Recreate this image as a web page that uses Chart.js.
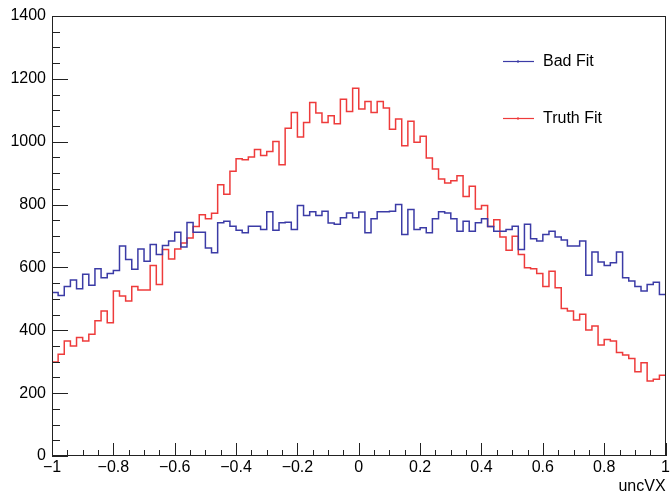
<!DOCTYPE html>
<html>
<head>
<meta charset="utf-8">
<script src="https://cdn.jsdelivr.net/npm/chart.js@4/dist/chart.umd.min.js"></script>
<style>
  html, body { margin: 0; padding: 0; background: #ffffff; }
  #wrap { width: 672px; height: 496px; }
</style>
</head>
<body>
<div id="wrap"><canvas id="c" width="672" height="496"></canvas></div>
<script>
// Histogram range (uncVX), 100 equal bins
const xMin = -1;
const xMax = 1;

// Bin contents, left to right
const badFit = [
  520, 511, 539, 560, 532, 578, 543, 596, 567, 581,
  590, 668, 625, 594, 659, 620, 673, 641, 670, 684,
  712, 665, 743, 712, 712, 662, 647, 742, 747, 731,
  718, 710, 731, 731, 721, 777, 718, 742, 744, 721,
  797, 765, 777, 765, 779, 741, 737, 758, 773, 758,
  776, 710, 755, 777, 777, 779, 800, 705, 784, 721,
  726, 710, 755, 777, 773, 755, 715, 747, 715, 742,
  755, 730, 715, 715, 721, 731, 657, 737, 691, 684,
  705, 715, 697, 687, 668, 668, 684, 575, 649, 617,
  606, 615, 649, 567, 557, 539, 525, 546, 553, 514
];
const truthFit = [
  299, 324, 366, 350, 377, 366, 387, 430, 461, 424,
  525, 509, 493, 539, 528, 528, 606, 546, 657, 627,
  659, 678, 694, 730, 768, 755, 772, 863, 833, 906,
  946, 943, 951, 975, 956, 969, 1001, 927, 1043, 1093,
  1015, 1061, 1125, 1091, 1061, 1083, 1057, 1135, 1096, 1170,
  1104, 1128, 1093, 1128, 1107, 1040, 1072, 987, 1065, 998,
  1017, 948, 913, 881, 869, 876, 892, 826, 858, 786,
  797, 730, 752, 697, 655, 699, 641, 599, 596, 581,
  539, 588, 535, 469, 461, 433, 451, 401, 414, 353,
  371, 366, 329, 321, 310, 268, 297, 239, 244, 257
];

const seriesLabels = ['Bad Fit', 'Truth Fit'];
const seriesColors = ['#3b3ba6', '#ee3b3b'];
const xTicks = [-1, -0.8, -0.6, -0.4, -0.2, 0, 0.2, 0.4, 0.6, 0.8, 1];
const yTicks = [0, 200, 400, 600, 800, 1000, 1200, 1400];
const xTitle = 'uncVX';

const FONT = '"Liberation Sans", Arial, Helvetica, sans-serif';

// Turn bin contents into step points at the low edge of each bin,
// closing the last bin at the upper edge of the range.
function toSteps(values) {
  const w = (xMax - xMin) / values.length;
  const pts = values.map((v, i) => ({ x: xMin + i * w, y: v }));
  pts.push({ x: xMax, y: values[values.length - 1] });
  return pts;
}

function fmt(v) {
  const r = Math.round(v * 100) / 100;
  const s = String(Math.abs(r));
  return r < 0 ? '\u2212' + s : s;
}

// Frame plus inward-pointing ticks on the left and bottom axes
const frameTicks = {
  id: 'frameTicks',
  afterDraw(chart) {
    const { ctx, chartArea: a, scales } = chart;
    const xs = scales.x, ys = scales.y;
    ctx.save();
    ctx.strokeStyle = '#222';
    ctx.lineWidth = 1;
    ctx.strokeRect(Math.round(a.left) + 0.5, Math.round(a.top) + 0.5,
                   Math.round(a.right - a.left) - 1, Math.round(a.bottom - a.top) - 1);
    ctx.beginPath();
    // y axis: majors every 200, minors every 50
    for (let v = 0; v <= 1400; v += 50) {
      const py = Math.round(ys.getPixelForValue(v)) + 0.5;
      const len = (v % 200 === 0) ? 16 : 8;
      ctx.moveTo(a.left, py);
      ctx.lineTo(a.left + len, py);
    }
    // x axis: majors every 0.2, minors every 0.05
    for (let k = 0; k <= 40; k++) {
      const v = -1 + k * 0.05;
      const px = Math.round(xs.getPixelForValue(v)) + 0.5;
      const len = (k % 4 === 0) ? 13 : 6;
      ctx.moveTo(px, a.bottom);
      ctx.lineTo(px, a.bottom - len);
    }
    ctx.stroke();
    ctx.restore();
  }
};

// Legend drawn inside the plot, top right
const innerLegend = {
  id: 'innerLegend',
  afterDraw(chart) {
    const { ctx } = chart;
    const rows = [61, 118];
    ctx.save();
    chart.data.datasets.forEach((ds, i) => {
      const y = rows[i] + 0.5;
      ctx.strokeStyle = ds.borderColor;
      ctx.lineWidth = 1.2;
      ctx.beginPath();
      ctx.moveTo(503, y);
      ctx.lineTo(534, y);
      ctx.stroke();
      ctx.fillStyle = ds.borderColor;
      ctx.fillRect(517, y - 1, 2, 2);
      ctx.fillStyle = '#000';
      ctx.font = '16px ' + FONT;
      ctx.textBaseline = 'middle';
      ctx.textAlign = 'left';
      ctx.fillText(ds.label, 543, y);
    });
    ctx.restore();
  }
};

new Chart(document.getElementById('c'), {
  type: 'line',
  data: {
    datasets: [
      { label: seriesLabels[0], data: toSteps(badFit) },
      { label: seriesLabels[1], data: toSteps(truthFit) }
    ].map((d, i) => Object.assign(d, {
      borderColor: seriesColors[i],
      borderWidth: 1.5,
      pointRadius: 0,
      stepped: 'before',
      fill: false
    }))
  },
  options: {
    responsive: false,
    animation: false,
    layout: { padding: { top: 16, right: 6, left: 0, bottom: 0 } },
    plugins: { legend: { display: false }, tooltip: { enabled: false } },
    scales: {
      x: {
        type: 'linear',
        min: xMin,
        max: xMax,
        afterBuildTicks(scale) { scale.ticks = xTicks.map(v => ({ value: v })); },
        afterFit(scale) { scale.height = 40; },
        grid: { display: false, drawTicks: false },
        border: { display: false },
        ticks: {
          autoSkip: false,
          maxRotation: 0,
          padding: 2,
          color: '#000',
          font: { family: FONT, size: 16 },
          callback: v => fmt(v)
        },
        title: {
          display: true,
          text: xTitle,
          align: 'end',
          color: '#000',
          font: { family: FONT, size: 16 },
          padding: { top: 0, bottom: 0 }
        }
      },
      y: {
        min: 0,
        max: 1400,
        afterBuildTicks(scale) { scale.ticks = yTicks.map(v => ({ value: v })); },
        afterFit(scale) { scale.width = 52; },
        grid: { display: false, drawTicks: false },
        border: { display: false },
        ticks: {
          padding: 6,
          color: '#000',
          font: { family: FONT, size: 16 },
          callback: v => String(v)
        }
      }
    }
  },
  plugins: [frameTicks, innerLegend]
});
</script>
</body>
</html>
